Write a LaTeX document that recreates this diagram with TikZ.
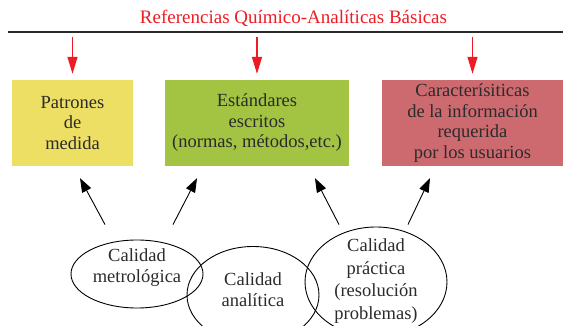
\documentclass[tikz,border=0pt]{standalone}
\usepackage{fontspec}
\setmainfont{Liberation Serif}
\usepackage{tikz}
\usetikzlibrary{arrows.meta, positioning, calc, shapes.geometric}

\definecolor{rojoref}{HTML}{ED1C24}
\definecolor{amarillo}{HTML}{EDDF63}
\definecolor{verde}{HTML}{A3C343}
\definecolor{rosado}{HTML}{CD6A70}
\definecolor{tinta}{HTML}{2B2B2B}

\tikzset{
  caja/.style={rectangle, minimum height=86pt, inner sep=0pt, align=center, text=tinta,
    font=\rmfamily\fontsize{18.5}{20.5}\selectfont},
  calidad/.style={ellipse, draw, line width=0.9pt, inner sep=0pt},
  texto/.style={align=center, text=tinta, inner sep=0pt},
  flecharoja/.style={draw=rojoref, fill=rojoref, line width=1.4pt, -{Triangle[length=17pt, width=10pt]}},
  flechanegra/.style={line width=0.9pt, -{Triangle[length=14pt, width=10pt]}},
}

\begin{document}
\begin{tikzpicture}[x=1pt, y=-1pt]
  \clip (0,0) rectangle (563,326);
  % Title and rule
  \node[text=rojoref, font=\rmfamily\fontsize{19}{21}\selectfont] (titulo) at (293.5,18) {Referencias Químico-Analíticas Básicas};
  \coordinate (regla) at (8,32);
  \coordinate (regla-fin) at (563,32);
  \draw[line width=2pt, tinta] (regla) -- (regla-fin);
  % Reference boxes
  \node[caja, fill=amarillo, minimum width=121pt] (patrones) at (72.5,123) {Patrones\\de\\medida};
  \node[caja, fill=verde, minimum width=184pt] (estandares) at (257,123) {Estándares\\escritos\\(normas, métodos,etc.)};
  \node[caja, fill=rosado, minimum width=181pt] (caract) at (472.5,123) {Caracterísiticas\\de la información\\requerida\\por los usuarios};
  % Red arrows from the rule
  \foreach \b in {patrones, estandares, caract}
    {\draw[flecharoja] ([yshift=-5pt]\b.north |- regla) -- ([yshift=6pt]\b.north);}
  % Quality ellipses
  \node[calidad, minimum width=132pt, minimum height=68pt] (metro) at (137,274) {};
  \node[calidad, minimum width=132pt, minimum height=97pt] (analitica) at (253,295) {};
  \node[calidad, minimum width=142pt, minimum height=110pt] (practica) at (376,282) {};
  \node[texto, font=\rmfamily\fontsize{18.5}{21}\selectfont] (metro-txt) at ([yshift=6.5pt]metro.center) {Calidad\\metrológica};
  \node[texto, font=\rmfamily\fontsize{18.5}{21}\selectfont] (analitica-txt) at ([yshift=5.5pt]analitica.center) {Calidad\\analítica};
  \node[texto, font=\rmfamily\fontsize{18.5}{22.5}\selectfont] (practica-txt) at ([yshift=1pt]practica.center) {Calidad\\práctica\\(resolución\\problemas)};
  % Black arrows towards the boxes
  \draw[flechanegra] ([xshift=-32pt, yshift=15pt]metro.north) -- ([xshift=7.5pt, yshift=-12pt]patrones.south);
  \draw[flechanegra] ([xshift=36pt, yshift=15pt]metro.north) -- ([xshift=-60pt, yshift=-12pt]estandares.south);
  \draw[flechanegra] ([xshift=-37pt, yshift=2pt]practica.north) -- ([xshift=58pt, yshift=-12pt]estandares.south);
  \draw[flechanegra] ([xshift=32pt, yshift=2pt]practica.north) -- ([xshift=-42.5pt, yshift=-12pt]caract.south);
\end{tikzpicture}
\end{document}
